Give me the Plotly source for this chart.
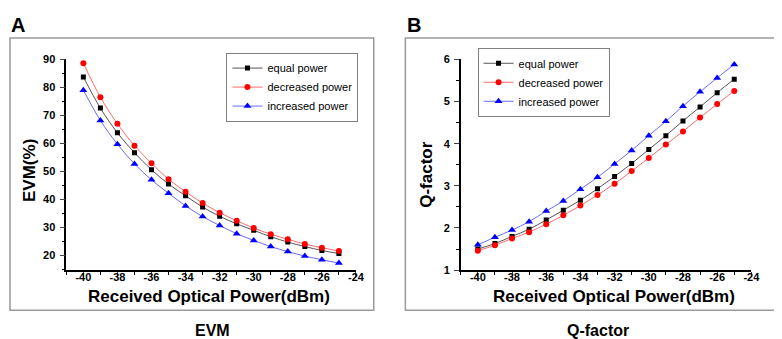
import plotly.graph_objects as go

power = [-40, -39, -38, -37, -36, -35, -34, -33, -32, -31, -30, -29, -28, -27, -26, -25]

evm_equal = [83.7, 72.6, 63.8, 56.7, 50.6, 45.5, 41.3, 37.3, 34.0, 31.3, 29.0, 26.7, 24.8, 23.2, 21.8, 20.7]
evm_decreased = [88.6, 76.5, 67.0, 59.2, 52.9, 47.2, 42.8, 38.7, 35.3, 32.4, 29.8, 27.6, 25.8, 24.1, 22.8, 21.6]
evm_increased = [79.0, 68.2, 59.7, 52.7, 47.0, 42.2, 37.7, 33.9, 30.7, 27.8, 25.4, 23.2, 21.4, 19.8, 18.5, 17.3]

q_equal = [1.50, 1.63, 1.80, 1.97, 2.19, 2.42, 2.66, 2.93, 3.22, 3.53, 3.86, 4.19, 4.54, 4.87, 5.21, 5.53]
q_decreased = [1.46, 1.59, 1.75, 1.90, 2.09, 2.30, 2.53, 2.78, 3.05, 3.35, 3.66, 3.98, 4.29, 4.62, 4.94, 5.25]
q_increased = [1.60, 1.78, 1.95, 2.15, 2.40, 2.64, 2.92, 3.20, 3.52, 3.84, 4.19, 4.53, 4.89, 5.23, 5.56, 5.88]

x_tickvals = [-40, -38, -36, -34, -32, -30, -28, -26, -24]
x_ticktext = ["-40", "-38", "-36", "-34", "-32", "-30", "-28", "-26", "-24"]
evm_tickvals = [20, 30, 40, 50, 60, 70, 80, 90]
q_tickvals = [1, 2, 3, 4, 5, 6]

series_names = ["equal power", "decreased power", "increased power"]
marker_colors = ["#000000", "#ff0000", "#0000ff"]
line_colors = ["#555555", "#ff6a6a", "#6a6aff"]
symbols = ["square", "circle", "triangle-up"]
msizes = [5, 6, 7]

W, H = 782, 339
FONT = "Liberation Sans, Arial, sans-serif"

def px(x):
    return x / W

def py(y):
    return 1 - y / H

fig = go.Figure()

for i, (ys, nm) in enumerate(zip([evm_equal, evm_decreased, evm_increased], series_names)):
    fig.add_trace(go.Scatter(
        x=power, y=ys, name=nm, mode="lines+markers",
        line=dict(color=line_colors[i], width=1, shape="spline"),
        marker=dict(symbol=symbols[i], size=msizes[i], color=marker_colors[i]),
        xaxis="x", yaxis="y", legend="legend"))

for i, (ys, nm) in enumerate(zip([q_equal, q_decreased, q_increased], series_names)):
    fig.add_trace(go.Scatter(
        x=power, y=ys, name=nm, mode="lines+markers",
        line=dict(color=line_colors[i], width=1, shape="spline"),
        marker=dict(symbol=symbols[i], size=msizes[i], color=marker_colors[i]),
        xaxis="x2", yaxis="y2", legend="legend2"))

tickfont = dict(family=FONT, size=11, color="#000", weight="bold")
ydom = [py(265.5), py(47)]

xcommon = dict(range=[-41, -24], tickvals=x_tickvals, ticktext=x_ticktext, ticks="outside", ticklen=5,
               tickwidth=1.3, showline=True, linecolor="#000", linewidth=1.5, showgrid=False, zeroline=False,
               tickfont=tickfont, ticklabelstandoff=-9,
               minor=dict(ticks="outside", ticklen=3, dtick=1, tick0=-41, tickcolor="#000", showgrid=False))

ycommon = dict(ticks="outside", ticklen=5, tickwidth=1.3, showline=True, linecolor="#000", linewidth=1.5,
               showgrid=False, zeroline=False, tickfont=tickfont, ticklabelstandoff=2)

legcommon = dict(xanchor="left", yanchor="top", bgcolor="white", bordercolor="#808080", borderwidth=1,
                 font=dict(family=FONT, size=11, color="#000"), tracegroupgap=0, itemwidth=30)

fig.update_layout(
    width=W, height=H, margin=dict(l=0, r=0, t=0, b=0),
    paper_bgcolor="white", plot_bgcolor="white",
    xaxis=dict(domain=[px(59), px(352)], anchor="y", **xcommon),
    yaxis=dict(domain=ydom, anchor="x", range=[14.8, 90], tickvals=evm_tickvals,
               minor=dict(ticks="outside", ticklen=3, dtick=5, tick0=15, tickcolor="#000", showgrid=False),
               **ycommon),
    xaxis2=dict(domain=[px(458), px(752)], anchor="y2", **xcommon),
    yaxis2=dict(domain=ydom, anchor="x2", range=[1, 6], tickvals=q_tickvals,
                minor=dict(ticks="outside", ticklen=3, dtick=0.5, tick0=1, tickcolor="#000", showgrid=False),
                **ycommon),
    legend=dict(x=px(221), y=py(40), **legcommon),
    legend2=dict(x=px(475), y=py(35), **legcommon),
    shapes=[
        dict(type="rect", xref="paper", yref="paper", x0=px(2), x1=px(370), y0=py(307), y1=py(25),
             line=dict(color="#9a9a9a", width=1.5)),
        dict(type="rect", xref="paper", yref="paper", x0=px(402), x1=px(778), y0=py(307), y1=py(25),
             line=dict(color="#9a9a9a", width=1.5)),
    ],
)

bold = lambda s: dict(family=FONT, size=s, color="#000", weight="bold")
ann = [
    dict(text="A", x=px(1), y=py(11), xanchor="left", yanchor="middle", font=bold(20)),
    dict(text="B", x=px(402), y=py(11), xanchor="left", yanchor="middle", font=bold(20)),
    dict(text="Received Optical Power(dBm)", x=px(203), y=py(293), xanchor="center", yanchor="middle", font=bold(17)),
    dict(text="Received Optical Power(dBm)", x=px(613), y=py(293), xanchor="center", yanchor="middle", font=bold(17)),
    dict(text="EVM(%)", x=px(22.5), y=py(162.5), textangle=-90, xanchor="center", yanchor="middle", font=bold(17)),
    dict(text="Q-factor", x=px(422.5), y=py(166), textangle=-90, xanchor="center", yanchor="middle", font=bold(17)),
    dict(text="EVM", x=px(207), y=py(328), xanchor="center", yanchor="middle", font=bold(16), borderpad=0),
    dict(text="Q-factor", x=px(597), y=py(328), xanchor="center", yanchor="middle", font=bold(16), borderpad=0),
]
for a in ann:
    a.update(xref="paper", yref="paper", showarrow=False)
fig.update_layout(annotations=ann)

fig.write_html("out.html")
